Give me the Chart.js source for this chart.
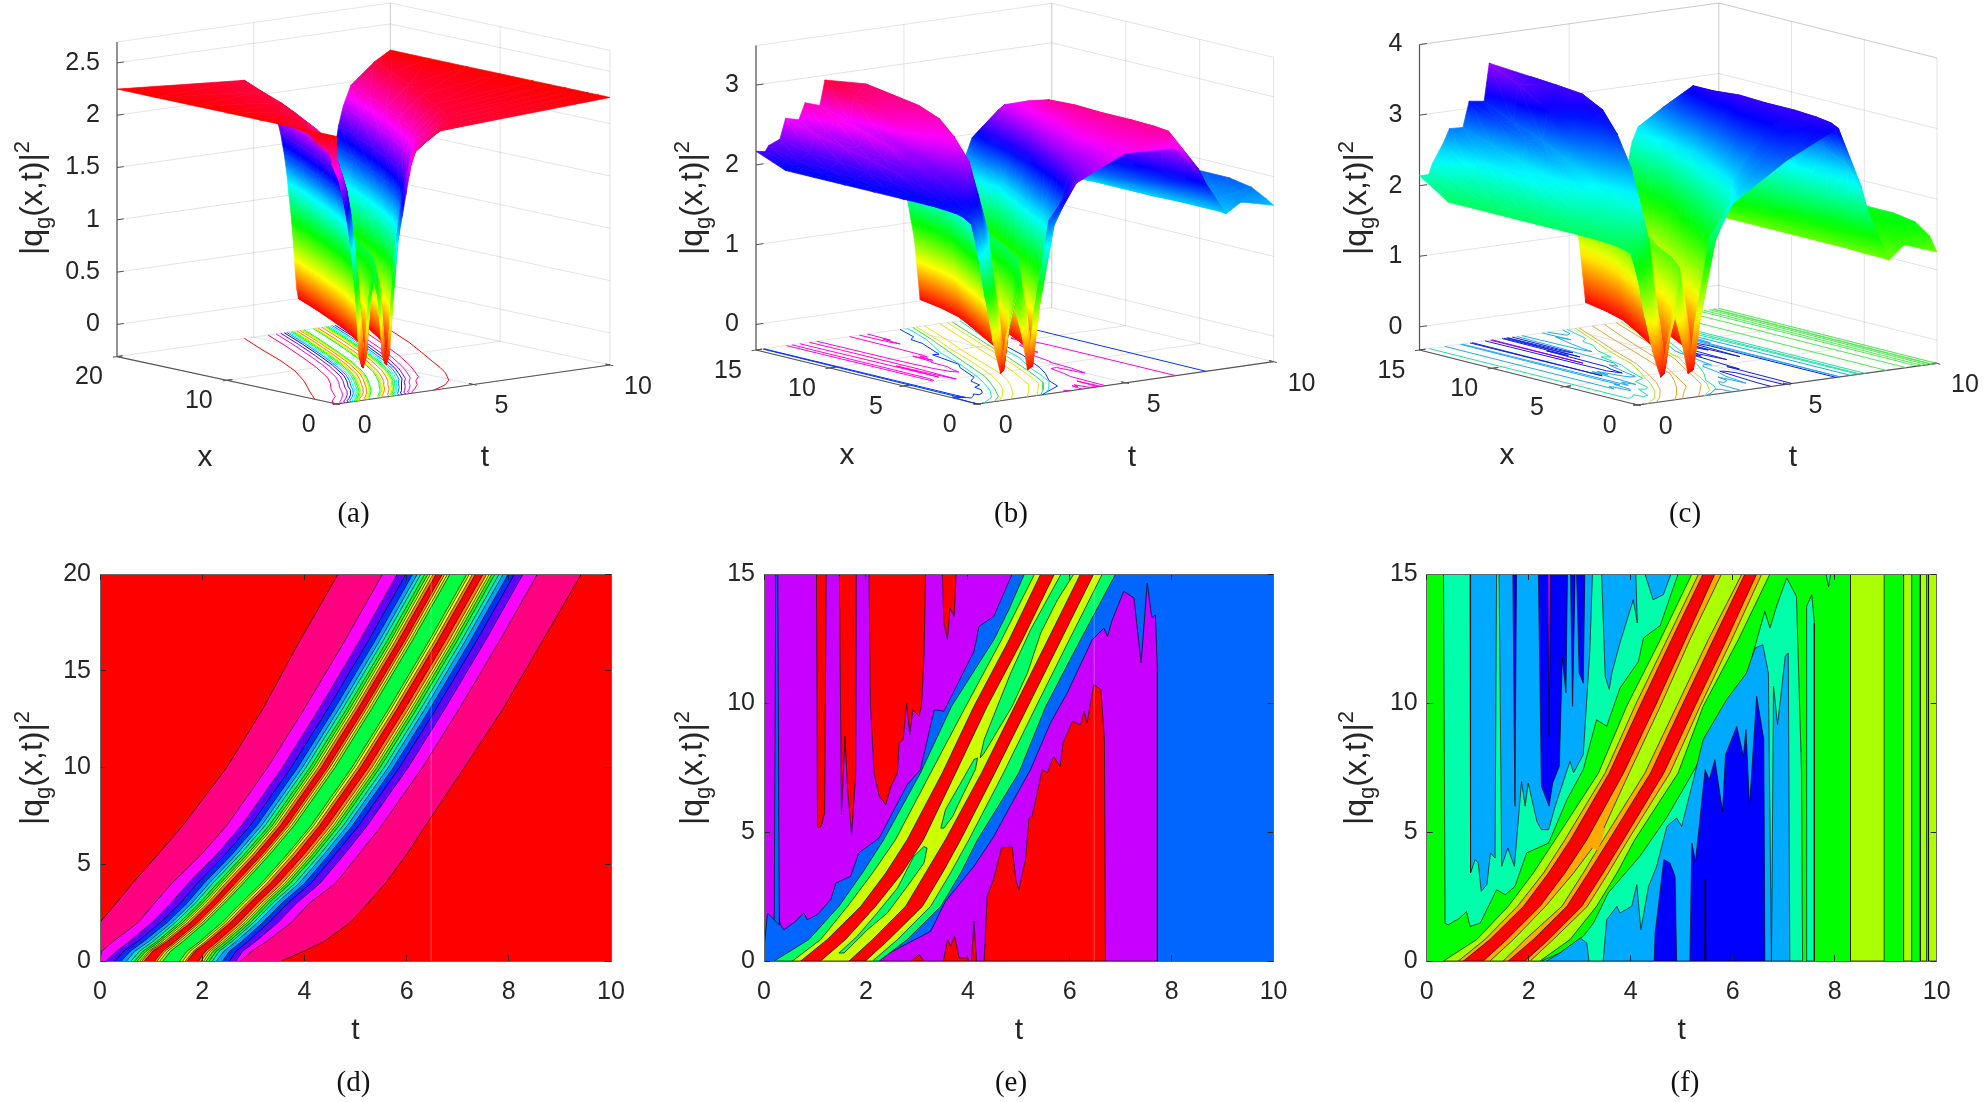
<!DOCTYPE html>
<html>
<head>
<meta charset="utf-8">
<title>q9 surfaces</title>
<script src="https://cdn.jsdelivr.net/npm/chart.js@4/dist/chart.umd.js"></script>
<style>
  html, body { margin: 0; background: #fff; }
  canvas { position: absolute; }
</style>
</head>
<body>
<script>
// ---- panel (d) : contour curves, t value of each curve at every x in dRows
const dRows = [0, 0.5, 1, 2, 3, 4, 5.5, 7, 10, 13, 16.5, 20];
const dCurves = [
  [0, 0, 0, 0, 0.32, 0.63, 1.13, 1.62, 2.48, 3.18, 3.9, 4.66],
  [0, 0.03, 0.25, 0.75, 1.07, 1.4, 1.98, 2.48, 3.28, 3.99, 4.78, 5.53],
  [0.12, 0.32, 0.57, 1.02, 1.39, 1.72, 2.28, 2.77, 3.57, 4.28, 5.07, 5.82],
  [0.29, 0.46, 0.73, 1.19, 1.58, 1.9, 2.45, 2.94, 3.74, 4.45, 5.24, 5.99],
  [0.42, 0.59, 0.85, 1.32, 1.71, 2.03, 2.58, 3.07, 3.87, 4.58, 5.37, 6.12],
  [0.52, 0.68, 0.95, 1.41, 1.8, 2.13, 2.67, 3.16, 3.96, 4.67, 5.46, 6.21],
  [0.61, 0.77, 1.03, 1.48, 1.87, 2.2, 2.74, 3.23, 4.03, 4.74, 5.53, 6.28],
  [0.68, 0.84, 1.11, 1.56, 1.95, 2.29, 2.82, 3.31, 4.11, 4.82, 5.61, 6.36],
  [0.73, 0.9, 1.16, 1.62, 2.01, 2.35, 2.88, 3.37, 4.17, 4.88, 5.67, 6.42],
  [0.78, 0.95, 1.21, 1.67, 2.06, 2.4, 2.93, 3.42, 4.22, 4.93, 5.72, 6.47],
  [0.82, 0.98, 1.26, 1.72, 2.11, 2.45, 2.99, 3.47, 4.27, 4.98, 5.77, 6.52],
  [0.87, 1.03, 1.31, 1.78, 2.17, 2.52, 3.05, 3.53, 4.33, 5.04, 5.83, 6.58],
  [1.07, 1.22, 1.46, 1.91, 2.29, 2.64, 3.17, 3.65, 4.45, 5.16, 5.95, 6.7],
  [1.12, 1.27, 1.51, 1.96, 2.34, 2.7, 3.22, 3.7, 4.5, 5.21, 6, 6.75],
  [1.17, 1.32, 1.56, 2.01, 2.39, 2.75, 3.27, 3.75, 4.55, 5.26, 6.05, 6.8],
  [1.23, 1.38, 1.62, 2.06, 2.44, 2.8, 3.32, 3.8, 4.6, 5.31, 6.1, 6.85],
  [1.56, 1.7, 1.95, 2.39, 2.76, 3.15, 3.66, 4.13, 4.93, 5.64, 6.43, 7.18],
  [1.62, 1.76, 2, 2.45, 2.81, 3.2, 3.71, 4.18, 4.98, 5.69, 6.48, 7.23],
  [1.67, 1.82, 2.06, 2.5, 2.87, 3.26, 3.77, 4.24, 5.04, 5.75, 6.54, 7.29],
  [1.71, 1.86, 2.11, 2.56, 2.93, 3.33, 3.84, 4.3, 5.1, 5.81, 6.6, 7.35],
  [1.93, 2.06, 2.29, 2.72, 3.08, 3.48, 3.99, 4.45, 5.25, 5.96, 6.75, 7.5],
  [1.98, 2.12, 2.35, 2.79, 3.15, 3.56, 4.06, 4.52, 5.32, 6.03, 6.82, 7.57],
  [2.03, 2.16, 2.4, 2.84, 3.2, 3.61, 4.11, 4.57, 5.37, 6.08, 6.87, 7.62],
  [2.08, 2.21, 2.45, 2.89, 3.25, 3.66, 4.16, 4.62, 5.42, 6.13, 6.92, 7.67],
  [2.14, 2.27, 2.52, 2.95, 3.31, 3.72, 4.22, 4.68, 5.48, 6.19, 6.98, 7.73],
  [2.2, 2.33, 2.58, 3.01, 3.38, 3.81, 4.3, 4.76, 5.56, 6.27, 7.06, 7.81],
  [2.28, 2.42, 2.66, 3.09, 3.46, 3.89, 4.38, 4.84, 5.64, 6.35, 7.14, 7.89],
  [2.4, 2.53, 2.77, 3.19, 3.56, 4, 4.48, 4.94, 5.74, 6.45, 7.24, 7.99],
  [2.53, 2.66, 2.89, 3.31, 3.68, 4.12, 4.6, 5.06, 5.86, 6.57, 7.36, 8.11],
  [2.66, 2.79, 3.04, 3.49, 3.85, 4.3, 4.78, 5.23, 6.03, 6.74, 7.53, 8.28],
  [2.75, 2.97, 3.25, 3.75, 4.1, 4.6, 5.06, 5.51, 6.31, 7.02, 7.81, 8.56],
  [3.55, 3.98, 4.38, 4.9, 5.25, 5.58, 6, 6.37, 7.13, 7.88, 8.65, 9.42]
];
const dColors = ['#ff0080', '#ff00ff', '#6000ff', '#0030ff', '#00a0ff', '#00e0e0', '#00ff80', '#20ff00',
  '#a0ff00', '#ffff00', '#ff8000', '#ff0000', '#ff8000', '#ffff00', '#a0ff00', '#00ff40',
  '#a0ff00', '#ffff00', '#ff8000', '#ff0000', '#ff8000', '#ffff00', '#a0ff00', '#20ff00',
  '#00ff80', '#00e0e0', '#00a0ff', '#0030ff', '#6000ff', '#ff00ff', '#ff0080', '#ff0000'];
// faint seam of the picture in (d) and (e)
const seamT = 6.48;

// ---- panel (a) : height of each curve of (d), plus the two troughs and the middle bump
const aLevels = [2.16, 1.97, 1.78, 1.6, 1.4, 1.22, 1.03, 0.84, 0.65, 0.47, 0.28, 0.09,
  0.09, 0.28, 0.47, 0.65, 0.65, 0.47, 0.28, 0.09, 0.09, 0.28, 0.47, 0.65,
  0.84, 1.03, 1.22, 1.4, 1.6, 1.78, 1.97, 2.16];
const aPlateau = 2.25;
const aBumpHeight = 0.85;
const aTrough1 = [0.97, 1.12, 1.38, 1.84, 2.23, 2.58, 3.11, 3.59, 4.39, 5.1, 5.89, 6.64];
const aBump = [1.4, 1.54, 1.78, 2.22, 2.6, 2.98, 3.49, 3.96, 4.76, 5.48, 6.26, 7.02];
const aTrough2 = [1.82, 1.96, 2.2, 2.64, 3, 3.4, 3.91, 4.37, 5.17, 5.89, 6.67, 7.43];

// ---- panel (e) : filled regions, [t, x] pairs
const eBase = [[0, 0], [10, 0], [10, 15], [0, 15]];
const eRed1 = [[1.03, 15], [1.05, 5.16], [1.12, 5.22], [1.19, 5.74], [1.22, 15]];
const eRed2 = [[1.48, 15], [1.52, 5.67], [1.59, 8.71], [1.64, 6.65], [1.72, 4.9], [1.8, 7.29], [1.81, 15]];
const eRed3 = [[2.06, 15], [2.09, 9.87], [2.16, 7.29], [2.26, 6.4], [2.39, 6.06], [2.49, 6.76], [2.62, 7.29], [2.65, 8.45], [2.73, 8.58], [2.8, 10], [2.86, 8.77], [2.92, 9.74], [3.04, 9.49], [3.09, 9.87], [3.14, 11.8], [3.17, 15]];
const eRed4 = [[3.5, 15], [3.53, 13.1], [3.6, 12.45], [3.65, 13.68], [3.73, 13.36], [3.77, 15]];
const eBlueEdge = [[0, 0], [0, 0.5], [0.07, 1.86], [0.2, 1.6], [0.26, 1.9], [0.32, 1.4], [0.39, 1.21], [0.62, 1.54], [0.78, 1.86], [0.85, 1.6], [1.05, 1.8], [1.31, 2.38], [1.41, 3.02], [1.7, 3.28], [1.86, 4.19], [2.26, 4.77], [2.62, 6.12], [2.81, 6.83], [3.07, 7.42], [3.34, 9.74], [3.53, 9.68], [4.12, 12], [4.22, 12.97], [4.51, 13.36], [4.87, 15]];
const eSliver = [[0.23, 15], [0.27, 15], [0.3, 1.4], [0.2, 1.6]];
const eIsland = [[2.16, 0], [3.27, 1.15], [3.56, 2.31], [4.12, 3.67], [4.51, 4.83], [4.9, 6.25], [5.23, 7.42], [5.62, 9.22], [5.95, 10.39], [6.44, 12.45], [6.67, 12.9], [6.74, 12.58], [6.83, 13.2], [7.06, 14.33], [7.26, 14.07], [7.4, 11.55], [7.52, 14.65], [7.61, 13.3], [7.68, 13.42], [7.72, 11.2], [7.72, 0]];
const eRedLow = [[4.32, 0], [4.38, 2.5], [4.51, 3.2], [4.66, 4.38], [4.87, 4.42], [4.94, 3.15], [5, 2.76], [5.13, 3.93], [5.2, 5.54], [5.26, 5.6], [5.46, 7.42], [5.56, 7.29], [5.68, 7.93], [5.81, 7.55], [5.87, 8.45], [6.05, 9.29], [6.21, 9.16], [6.28, 9.68], [6.34, 9.22], [6.47, 10.71], [6.61, 10.52], [6.68, 8.58], [6.7, 0]];
const eRedSpot1 = [[3.52, 0], [3.6, 0.83], [3.66, 0.57], [3.74, 0.96], [3.83, 0.12], [3.99, 0.12], [4, 0]];
const eRedSpot2 = [[4.07, 0], [4.12, 1.54], [4.17, 0]];
const eRedSpot3 = [[2.88, 0], [3.04, 0.25], [3.14, 0]];
const eGreen = [[0.2, 0], [0.88, 0.83], [1.47, 2.12], [1.93, 3.41], [2.35, 4.7], [3.07, 7.29], [3.68, 9.87], [4.51, 12.45], [4.8, 13.6], [5.11, 15], [6.9, 15], [6.21, 12.45], [5.53, 9.87], [5, 7.29], [4.19, 4.7], [3.86, 3.41], [3.47, 2.12], [2.81, 0.83], [2.26, 0]];
const eYellow = [[0.56, 0], [1.11, 0.83], [1.64, 2.12], [2.13, 3.41], [2.58, 4.7], [3.27, 7.29], [3.96, 9.87], [4.66, 12.45], [5.31, 15], [6.64, 15], [5.99, 12.45], [5.34, 9.87], [4.7, 7.29], [4.02, 4.7], [3.66, 3.41], [3.27, 2.12], [2.62, 0.83], [2.13, 0]];
const eGreenIn1 = [[5.83, 15], [5.23, 12.84], [4.84, 11.16], [4.58, 9.87], [4.32, 8.58], [4.24, 7.87], [4.32, 8.06], [4.87, 9.87], [5.17, 11.16], [5.43, 12.71], [5.76, 14], [6.08, 15]];
const eGreenIn2 = [[3.47, 5.15], [3.56, 5.86], [3.86, 6.9], [4.12, 7.81], [4.19, 7.87], [4.15, 7.43], [3.92, 6.51], [3.7, 5.6], [3.53, 5.15]];
const eGreenIn3 = [[1.47, 0.31], [1.83, 0.96], [2.22, 1.86], [2.62, 2.83], [2.94, 4.06], [3.14, 4.44], [3.2, 4.38], [3.14, 3.8], [2.81, 2.89], [2.42, 1.86], [2.03, 1.21], [1.57, 0.31]];
const eStripe1 = [[0.72, 0], [1.24, 0.83], [1.9, 2.12], [2.39, 3.41], [2.81, 4.7], [3.5, 7.29], [4.12, 9.87], [4.81, 12.45], [5.43, 15], [5.7, 15], [5.07, 12.45], [4.38, 9.87], [3.76, 7.29], [3.13, 4.7], [2.71, 3.41], [2.19, 2.12], [1.6, 0.83], [1.11, 0]];
const eStripe2 = [[1.67, 0], [2.13, 0.83], [2.78, 2.12], [3.17, 3.41], [3.56, 4.7], [4.27, 7.29], [4.92, 9.87], [5.57, 12.45], [6.21, 15], [6.47, 15], [5.83, 12.45], [5.18, 9.87], [4.53, 7.29], [3.86, 4.7], [3.5, 3.41], [3.11, 2.12], [2.45, 0.83], [1.99, 0]];

// ---- panel (f) : filled regions, [t, x] pairs
const fBase = [[0, 0], [10, 0], [10, 15], [0, 15]];
const fBar1 = [[8.31, 0], [8.97, 0], [8.97, 15], [8.31, 15]];
const fBar2 = [[9.35, 0], [9.51, 0], [9.51, 15], [9.35, 15]];
const fBar3 = [[9.68, 0], [9.8, 0], [9.8, 15], [9.68, 15]];
const fBar4 = [[9.84, 0], [10, 0], [10, 15], [9.84, 15]];
const fMintUp = [[0.33, 15], [0.36, 1.47], [0.42, 1.4], [0.65, 1.67], [0.78, 1.92], [0.85, 1.34], [1.05, 1.47], [1.37, 2.76], [1.54, 2.57], [1.73, 2.89], [1.96, 4.19], [2.39, 4.57], [2.75, 6.25], [3.07, 7.42], [3.33, 9.35], [3.53, 9.1], [3.79, 10.58], [4.15, 11.6], [4.25, 12.52], [4.58, 13], [4.77, 14.1], [4.93, 15]];
const fSkyUp1 = [[0.85, 15], [0.86, 3.41], [0.95, 3.93], [1.01, 3.8], [1.07, 2.7], [1.18, 2.96], [1.25, 4.19], [1.34, 3.99], [1.37, 15]];
const fSkyUp2 = [[1.42, 15], [1.47, 3.67], [1.59, 4.38], [1.72, 3.67], [1.86, 6.96], [1.93, 6], [1.99, 6.9], [2.16, 5.41], [2.25, 5.09], [2.39, 5.09], [2.52, 6], [2.81, 7.74], [2.88, 7.29], [3.07, 8], [3.2, 12.07], [3.25, 15]];
const fSkyUp3 = [[3.43, 15], [3.5, 11.03], [3.58, 10.52], [3.63, 11.16], [3.79, 12.33], [4.05, 14], [4.13, 13.1], [4.1, 15]];
const fSkyUp4 = [[4.28, 15], [4.44, 14], [4.64, 14.2], [4.79, 15]];
const fDarkUp1 = [[1.69, 15], [1.73, 6], [1.76, 15]];
const fDarkUp2 = [[2.19, 15], [2.25, 6.77], [2.4, 6], [2.47, 6.9], [2.6, 7.55], [2.66, 11.74], [2.73, 10.39], [2.76, 15]];
const fDarkUp3 = [[2.82, 15], [2.86, 9.87], [2.91, 15]];
const fDarkUp4 = [[2.94, 15], [2.99, 11.16], [3.07, 10.77], [3.1, 15]];
const fPurple = [[2.37, 15], [2.4, 8.7], [2.43, 15]];
const fMintLow = [[2.25, 0], [2.61, 0.31], [3.07, 0.96], [3.27, 1.47], [3.56, 2.64], [4.18, 4.06], [4.7, 5.54], [5.1, 6.9], [5.62, 8.71], [6.27, 11.03], [6.63, 13.55], [6.73, 12.9], [6.86, 13.75], [7.06, 14.85], [7.25, 14.13], [7.35, 7.29], [7.37, 0]];
const fMintBar = [[7.44, 0], [7.45, 13.75], [7.55, 14.2], [7.6, 13.1], [7.6, 0]];
const fMintNotch = [[7.83, 15], [7.88, 14.5], [7.92, 15]];
const fSkyLow1 = [[2.35, 0], [2.61, 0.31], [3.01, 0.89], [3.14, 0.7], [3.18, 0]];
const fSkyLow2 = [[3.46, 0], [3.53, 1.6], [3.73, 2.12], [3.79, 1.86], [4.02, 2.12], [4.12, 2.96], [4.2, 1.21], [4.35, 2.89], [4.51, 3.67], [4.71, 5.22], [4.9, 5.54], [5, 5.22], [5.23, 7.03], [5.42, 8.58], [5.88, 10.13], [6.27, 11.16], [6.44, 12.13], [6.59, 12.26], [6.7, 11.16], [6.76, 0]];
const fSkyLow3 = [[6.76, 0], [6.8, 10.65], [6.88, 9.16], [7.03, 11.81], [7.09, 11.94], [7.12, 0]];
const fDarkLow1 = [[4.46, 0], [4.48, 1.09], [4.65, 3.93], [4.77, 3.8], [4.87, 3.28], [4.9, 0]];
const fDarkLow2 = [[5.16, 0], [5.2, 4.57], [5.27, 3.86], [5.46, 7.42], [5.54, 7.03], [5.65, 7.8], [5.8, 5.8], [5.86, 8], [6.08, 9.1], [6.21, 7.93], [6.26, 8.97], [6.33, 6], [6.47, 10.26], [6.61, 8.58], [6.63, 0]];
const fDarkLine = [[5.45, 0], [5.46, 3.15], [5.47, 0]];
const fLime = [[0.33, 0], [0.98, 0.83], [1.6, 2.12], [2.09, 3.41], [2.52, 4.7], [3.37, 7.29], [3.92, 9.87], [4.58, 12.45], [5.2, 15], [6.73, 15], [6.11, 12.45], [5.42, 9.87], [4.93, 7.29], [4.08, 4.7], [3.73, 3.41], [3.33, 2.12], [2.81, 0.83], [2.22, 0]];
const fOrange1 = [[0.62, 0], [1.14, 0.83], [1.78, 2.12], [2.29, 3.41], [2.71, 4.7], [3.5, 7.29], [4.08, 9.87], [4.71, 12.45], [5.33, 15], [5.78, 15], [5.16, 12.45], [4.58, 9.87], [3.97, 7.29], [3.37, 4.7], [2.88, 3.41], [2.33, 2.12], [1.7, 0.83], [1.24, 0]];
const fOrange2 = [[1.5, 0], [1.93, 0.83], [2.65, 2.12], [3.07, 3.41], [3.46, 4.7], [4.28, 7.29], [4.9, 9.87], [5.52, 12.45], [6.18, 15], [6.57, 15], [5.98, 12.45], [5.36, 9.87], [4.77, 7.29], [3.95, 4.7], [3.56, 3.41], [3.15, 2.12], [2.48, 0.83], [2.03, 0]];
const fOrangeBridge = [[3.2, 4.4], [3.4, 5.3], [3.5, 5.1], [3.36, 4.3]];
const fStripe1 = [[0.72, 0], [1.24, 0.83], [1.9, 2.12], [2.39, 3.41], [2.82, 4.7], [3.58, 7.29], [4.18, 9.87], [4.8, 12.45], [5.42, 15], [5.65, 15], [5.07, 12.45], [4.48, 9.87], [3.86, 7.29], [3.14, 4.7], [2.71, 3.41], [2.22, 2.12], [1.57, 0.83], [1.11, 0]];
const fStripe2 = [[1.6, 0], [2.09, 0.83], [2.75, 2.12], [3.17, 3.41], [3.58, 4.7], [4.39, 7.29], [5, 9.87], [5.62, 12.45], [6.24, 15], [6.47, 15], [5.88, 12.45], [5.26, 9.87], [4.65, 7.29], [3.86, 4.7], [3.46, 3.41], [3.04, 2.12], [2.39, 0.83], [1.93, 0]];

// ---- panels (b) and (c) : surface samples, same t table, one row per x
const bcRows = [0, 0.5, 1.5, 3, 5, 7, 9, 11, 13, 15];
const bcT = [
  [0, 0.04, 0.08, 0.12, 0.16, 0.2, 0.25, 0.3, 0.35, 0.42, 0.5, 0.62, 0.77, 0.95, 1.22, 1.5, 1.68, 1.9, 2.4, 3.2, 5, 6.7, 7.7, 7.8, 8.4, 8.9, 10],
  [0, 0.05, 0.1, 0.15, 0.2, 0.25, 0.3, 0.38, 0.45, 0.55, 0.75, 0.95, 1.12, 1.3, 1.6, 1.9, 2.1, 2.35, 2.85, 3.6, 5.2, 6.7, 7.7, 7.8, 8.4, 8.9, 10],
  [0, 0.1, 0.15, 0.25, 0.3, 0.4, 0.5, 0.6, 0.7, 0.9, 1.2, 1.45, 1.65, 1.85, 2.15, 2.4, 2.6, 2.85, 3.3, 4.1, 5.4, 6.7, 7.7, 7.8, 8.4, 8.9, 10],
  [0, 0.15, 0.25, 0.4, 0.5, 0.7, 0.85, 1, 1.15, 1.5, 1.85, 2.1, 2.33, 2.55, 2.85, 3.1, 3.3, 3.55, 4, 4.7, 5.7, 6.7, 7.7, 7.8, 8.4, 8.9, 10],
  [0, 0.2, 0.3, 0.55, 0.7, 1, 1.2, 1.5, 1.7, 2.2, 2.6, 2.85, 3.05, 3.25, 3.55, 3.75, 3.95, 4.2, 4.65, 5.3, 5.9, 6.7, 7.7, 7.8, 8.4, 8.9, 10],
  [0, 0.25, 0.35, 0.65, 0.8, 1.2, 1.4, 1.8, 2, 2.7, 3.2, 3.45, 3.66, 3.85, 4.1, 4.3, 4.5, 4.75, 5.2, 5.8, 6.3, 6.8, 7.7, 7.8, 8.4, 8.9, 10],
  [0, 0.3, 0.4, 0.75, 0.9, 1.3, 1.5, 2, 2.2, 3.2, 3.8, 4.05, 4.27, 4.45, 4.75, 4.95, 5.1, 5.35, 5.8, 6.3, 6.6, 6.9, 7.7, 7.8, 8.4, 8.9, 10],
  [0, 0.31, 0.43, 0.81, 1, 1.45, 1.66, 2.16, 2.33, 3.5, 4.35, 4.65, 4.85, 5.05, 5.35, 5.55, 5.7, 5.95, 6.35, 6.7, 6.9, 7.2, 7.7, 7.8, 8.4, 8.9, 10],
  [0, 0.31, 0.43, 0.81, 1, 1.45, 1.66, 2.16, 2.33, 3.6, 4.6, 5.05, 5.25, 5.4, 5.7, 5.95, 6.1, 6.3, 6.7, 7, 7.2, 7.4, 7.7, 7.8, 8.4, 8.9, 10],
  [0, 0.31, 0.43, 0.81, 1, 1.45, 1.66, 2.16, 2.33, 3.7, 4.86, 5.35, 5.55, 5.68, 5.9, 6.2, 6.35, 6.5, 6.9, 7.1, 7.3, 7.5, 7.7, 7.8, 8.4, 8.9, 10]
];
const bZ = [
  [1.6, 1.5, 1.4, 1.3, 1.2, 1.1, 1, 0.9, 0.8, 0.65, 0.45, 0.25, 0.02, 0.45, 0.85, 0.45, 0.02, 0.75, 1.85, 2.25, 2.56, 2.53, 2.04, 1.98, 1.62, 1.74, 1.64],
  [1.95, 1.9, 1.9, 1.85, 1.8, 1.75, 1.7, 1.6, 1.5, 1.35, 0.95, 0.5, 0.02, 0.55, 0.95, 0.55, 0.02, 0.8, 1.8, 2.25, 2.55, 2.72, 2.2, 2, 1.63, 1.72, 1.7],
  [2, 2, 2, 2, 2, 2, 2, 1.98, 1.96, 1.9, 1.35, 0.7, 0.02, 0.62, 1.15, 0.62, 0.02, 0.8, 1.65, 2.25, 2.58, 2.74, 2.35, 1.95, 1.63, 1.72, 1.8],
  [2.02, 2.02, 2.03, 2.05, 2.06, 2.08, 2.1, 2.12, 2.14, 2.1, 1.6, 0.75, 0.02, 0.65, 1.2, 0.65, 0.02, 0.8, 1.6, 2.3, 2.6, 2.75, 2.45, 1.9, 1.63, 1.7, 1.85],
  [2.02, 2.03, 2.04, 2.08, 2.12, 2.15, 2.2, 2.22, 2.28, 2.38, 1.7, 0.8, 0.02, 0.65, 1.2, 0.65, 0.02, 0.8, 1.6, 2.35, 2.6, 2.75, 2.5, 1.85, 1.62, 1.7, 1.85],
  [2.02, 2.03, 2.06, 2.1, 2.2, 2.22, 2.3, 2.3, 2.42, 2.57, 1.75, 0.8, 0.02, 0.65, 1.2, 0.65, 0.02, 0.8, 1.6, 2.35, 2.58, 2.75, 2.5, 1.8, 1.62, 1.7, 1.85],
  [2.02, 2.04, 2.08, 2.14, 2.28, 2.28, 2.42, 2.38, 2.55, 2.68, 1.75, 0.8, 0.02, 0.65, 1.2, 0.65, 0.02, 0.8, 1.6, 2.3, 2.55, 2.72, 2.5, 1.8, 1.62, 1.7, 1.85],
  [2.02, 2.05, 2.1, 2.18, 2.34, 2.32, 2.5, 2.44, 2.7, 2.74, 1.8, 0.8, 0.02, 0.65, 1.2, 0.65, 0.02, 0.8, 1.6, 2.3, 2.5, 2.6, 2.45, 1.65, 1.6, 1.7, 1.85],
  [2.02, 2.05, 2.12, 2.2, 2.42, 2.4, 2.58, 2.52, 2.82, 2.78, 1.8, 0.8, 0.02, 0.65, 1.2, 0.65, 0.02, 0.8, 1.75, 2.2, 2.4, 2.45, 2.35, 1.65, 1.6, 1.7, 1.85],
  [2.17, 2.15, 2.22, 2.28, 2.53, 2.49, 2.69, 2.63, 2.94, 2.82, 1.85, 0.8, 0.02, 0.65, 1.2, 0.65, 0.02, 0.8, 1.55, 1.75, 1.95, 1.95, 1.72, 1.65, 1.6, 1.7, 1.85]
];
const cZ = [
  [1.5, 1.4, 1.3, 1.2, 1.1, 1, 0.9, 0.8, 0.7, 0.55, 0.4, 0.22, 0.02, 0.42, 0.9, 0.42, 0.02, 0.7, 1.9, 2.35, 2.85, 3.2, 1.95, 1.85, 1.23, 1.42, 1.25],
  [1.8, 1.78, 1.78, 1.75, 1.7, 1.65, 1.6, 1.5, 1.4, 1.25, 1, 0.5, 0.02, 0.5, 1, 0.5, 0.02, 0.78, 1.85, 2.45, 2.9, 3.25, 2.3, 2, 1.24, 1.42, 1.45],
  [1.85, 1.85, 1.85, 1.85, 1.85, 1.85, 1.85, 1.82, 1.8, 1.75, 1.4, 0.7, 0.02, 0.6, 1.25, 0.6, 0.02, 0.8, 1.7, 2.5, 3, 3.28, 2.55, 1.95, 1.24, 1.45, 1.6],
  [1.87, 1.88, 1.9, 1.93, 1.96, 2, 2.04, 2.08, 2.12, 2.35, 1.7, 0.8, 0.02, 0.62, 1.3, 0.62, 0.02, 0.8, 1.65, 2.5, 3.05, 3.3, 2.7, 1.9, 1.25, 1.42, 1.65],
  [1.87, 1.88, 1.92, 1.98, 2.06, 2.12, 2.2, 2.25, 2.38, 2.65, 1.8, 0.85, 0.02, 0.65, 1.3, 0.65, 0.02, 0.85, 1.65, 2.55, 3.05, 3.3, 2.8, 1.85, 1.25, 1.42, 1.65],
  [1.87, 1.89, 1.95, 2.05, 2.2, 2.27, 2.4, 2.42, 2.62, 3, 1.85, 0.85, 0.02, 0.65, 1.3, 0.65, 0.02, 0.85, 1.65, 2.55, 3.05, 3.3, 2.85, 1.75, 1.25, 1.42, 1.65],
  [1.87, 1.9, 1.97, 2.1, 2.3, 2.38, 2.58, 2.55, 2.85, 3.2, 1.9, 0.85, 0.02, 0.65, 1.3, 0.65, 0.02, 0.85, 1.7, 2.6, 3.05, 3.25, 2.8, 1.65, 1.25, 1.42, 1.65],
  [1.87, 1.92, 2, 2.15, 2.4, 2.45, 2.75, 2.72, 3.15, 3.3, 1.95, 0.85, 0.02, 0.65, 1.3, 0.65, 0.02, 0.85, 1.75, 2.7, 3, 3.2, 2.7, 1.55, 1.25, 1.42, 1.65],
  [1.87, 1.95, 2.05, 2.2, 2.5, 2.6, 2.92, 2.88, 3.4, 3.32, 2, 0.85, 0.02, 0.65, 1.3, 0.65, 0.02, 0.85, 1.95, 2.5, 2.8, 2.85, 2.45, 1.5, 1.25, 1.42, 1.65],
  [2.14, 2.14, 2.29, 2.57, 2.75, 2.74, 3.1, 3.07, 3.6, 3.33, 2.1, 0.85, 0.02, 0.65, 1.3, 0.65, 0.02, 0.85, 1.75, 2.2, 2.4, 2.4, 2.15, 1.45, 1.25, 1.42, 1.65]
];

// ---- axis tick labels
const tTicks3d = [0, 5, 10];
const xTicksA = [0, 10, 20];
const xTicksBC = [0, 5, 10, 15];
const zTicksA = [0, 0.5, 1, 1.5, 2, 2.5];
const zTicksB = [0, 1, 2, 3];
const zTicksC = [0, 1, 2, 3, 4];

const INK = '#262626';
const SANS = '"Liberation Sans", Arial, sans-serif';
const SERIF = '"Liberation Serif", serif';
const CONTOUR = 'rgba(0,0,0,0.75)';
const GRID3D = 'rgba(38,38,38,0.13)';

const purple = '#c800ff', red = '#ff0000', blue = '#0066ff', green = '#00ff66', yellow = '#ccff00';
const eLayers = [
  { pts: eBase, color: purple, line: false },
  { pts: eRed1, color: red, floor: '#ff00e0' }, { pts: eRed2, color: red, floor: '#ff00e0' },
  { pts: eRed3, color: red, floor: '#ff00e0' }, { pts: eRed4, color: red, floor: '#ff00e0' },
  { pts: eBlueEdge, color: blue, closure: [[10, 15], [10, 0]], floor: '#0033ff' },
  { pts: eSliver, color: blue, floor: '#0033ff' },
  { pts: eIsland, color: purple, floor: '#0033ff' },
  { pts: eRedLow, color: red, floor: '#ff00e0' }, { pts: eRedSpot1, color: red, floor: '#ff00e0' },
  { pts: eRedSpot2, color: red, floor: '#ff00e0' }, { pts: eRedSpot3, color: red, floor: '#ff00e0' },
  { pts: eGreen, color: green, floor: '#00e8e0' },
  { pts: eYellow, color: yellow, floor: '#30e040' },
  { pts: eGreenIn1, color: green }, { pts: eGreenIn2, color: green }, { pts: eGreenIn3, color: green },
  { pts: eStripe1, color: red, floor: '#f0e000' }, { pts: eStripe2, color: red, floor: '#f0e000' }
];
const fDark = '#0000ff', fSky = '#00aaff', fMint = '#00ffaa', fGreen = '#00ff00', fLimeC = '#aaff00', fOrangeC = '#ffaa00';
const fLayers = [
  { pts: fBase, color: fGreen, line: false },
  { pts: fBar1, color: fLimeC, floor: '#50e850' }, { pts: fBar2, color: fLimeC, floor: '#50e850' },
  { pts: fBar3, color: fLimeC, floor: '#50e850' }, { pts: fBar4, color: fLimeC, floor: '#50e850' },
  { pts: fMintUp, color: fMint, floor: '#20e0a0' },
  { pts: fSkyUp1, color: fSky, floor: '#20a8f0' }, { pts: fSkyUp2, color: fSky, floor: '#20a8f0' },
  { pts: fSkyUp3, color: fSky, floor: '#20a8f0' }, { pts: fSkyUp4, color: fSky, floor: '#20a8f0' },
  { pts: fDarkUp1, color: fDark, floor: '#1020e0' }, { pts: fDarkUp2, color: fDark, floor: '#1020e0' },
  { pts: fDarkUp3, color: fDark, floor: '#1020e0' }, { pts: fDarkUp4, color: fDark, floor: '#1020e0' },
  { pts: fPurple, color: '#aa00ff', floor: '#9000e8' },
  { pts: fMintLow, color: fMint, floor: '#20e0a0' }, { pts: fMintBar, color: fMint, floor: '#20e0a0' },
  { pts: fMintNotch, color: fMint },
  { pts: fSkyLow1, color: fSky, floor: '#20a8f0' }, { pts: fSkyLow2, color: fSky, floor: '#20a8f0' },
  { pts: fSkyLow3, color: fSky, floor: '#20a8f0' },
  { pts: fDarkLow1, color: fDark, floor: '#1020e0' }, { pts: fDarkLow2, color: fDark, floor: '#1020e0' },
  { pts: fDarkLine, color: fDark },
  { pts: fLime, color: fLimeC, floor: '#a0e820' },
  { pts: fOrange1, color: fOrangeC, floor: '#f0a030' }, { pts: fOrange2, color: fOrangeC, floor: '#f0a030' },
  { pts: fOrangeBridge, color: fOrangeC, line: false },
  { pts: fStripe1, color: red }, { pts: fStripe2, color: red }
];

// page position of every panel
const cells = {
  a: { left: 0, top: 0, width: 660, height: 550 },
  b: { left: 660, top: 0, width: 660, height: 550 },
  c: { left: 1320, top: 0, width: 664, height: 550 },
  d: { left: 0, top: 550, width: 660, height: 552 },
  e: { left: 660, top: 550, width: 660, height: 552 },
  f: { left: 1320, top: 550, width: 664, height: 552 }
};
// floor corners of the 3d boxes
const views = {
  a: { F: [336.7, 404], L: [117, 356.6], R: [610, 365], zMin: -0.307, zMax: 2.7, height: 314.6, xMax: 20, clim: 2.25 },
  b: { F: [977.8, 404], L: [756, 350], R: [1273.6, 361.7], zMin: -0.32, zMax: 3.495, height: 304.4, xMax: 15, clim: 3.05 },
  c: { F: [1637.7, 405], L: [1419.5, 350], R: [1937, 363.4], zMin: -0.328, zMax: 4, height: 305.4, xMax: 15, clim: 4.7 }
};
const texts = {
  a: { cap: '(a)', capX: 353.5, capY: 514, yX: 32, yY: 198, xLab: [205, 458], tLab: [485, 458] },
  b: { cap: '(b)', capX: 1011, capY: 514, yX: 692, yY: 198, xLab: [847, 456], tLab: [1132, 458] },
  c: { cap: '(c)', capX: 1685, capY: 514, yX: 1356, yY: 198, xLab: [1507, 456], tLab: [1793, 458] },
  d: { cap: '(d)', capX: 353.5, capY: 1083, yX: 32, yY: 768 },
  e: { cap: '(e)', capX: 1011, capY: 1083, yX: 692, yY: 768 },
  f: { cap: '(f)', capX: 1685, capY: 1083, yX: 1356, yY: 768 }
};

function hueColor(z, clim) {
  const h = Math.max(0, Math.min(z / clim, 1));
  return 'hsl(' + (h * 360).toFixed(1) + ',100%,50%)';
}

function project(v, x, t, z) {
  const a = x / v.xMax, b = t / 10, c = (z - v.zMin) / (v.zMax - v.zMin);
  return {
    x: v.F[0] + a * (v.L[0] - v.F[0]) + b * (v.R[0] - v.F[0]),
    y: v.F[1] + a * (v.L[1] - v.F[1]) + b * (v.R[1] - v.F[1]) - c * v.height
  };
}

// one triangle of the surface, coloured by height with a linear gradient
function fillTriangle(ctx, p, z, clim) {
  const [a, b, c] = p;
  const det = (b.x - a.x) * (c.y - a.y) - (c.x - a.x) * (b.y - a.y);
  if (Math.abs(det) < 0.01) return;
  const lo = Math.min(z[0], z[1], z[2]), hi = Math.max(z[0], z[1], z[2]);
  let paint;
  if (hi - lo < 0.001) {
    paint = hueColor(lo, clim);
  } else {
    const gx = ((z[1] - z[0]) * (c.y - a.y) - (z[2] - z[0]) * (b.y - a.y)) / det;
    const gy = ((z[2] - z[0]) * (b.x - a.x) - (z[1] - z[0]) * (c.x - a.x)) / det;
    const g2 = gx * gx + gy * gy;
    const start = p[z.indexOf(lo)];
    const k = (hi - lo) / g2;
    paint = ctx.createLinearGradient(start.x, start.y, start.x + gx * k, start.y + gy * k);
    const n = Math.ceil((hi - lo) / clim * 24) + 1;
    for (let i = 0; i <= n; i++) paint.addColorStop(i / n, hueColor(lo + (hi - lo) * i / n, clim));
  }
  ctx.fillStyle = paint;
  ctx.strokeStyle = paint;
  ctx.lineWidth = 0.7;
  ctx.beginPath();
  ctx.moveTo(a.x, a.y);
  ctx.lineTo(b.x, b.y);
  ctx.lineTo(c.x, c.y);
  ctx.closePath();
  ctx.fill();
  ctx.stroke();
}

// fills regions and surface quads under each dataset's own parsed points
const areaPlugin = {
  id: 'areaPlugin',
  beforeDatasetDraw(chart, args) {
    const ds = chart.data.datasets[args.index];
    const pts = args.meta.data;
    const ctx = chart.ctx;
    if (ds.quadZ) {
      fillTriangle(ctx, [pts[0], pts[1], pts[2]], [ds.quadZ[0], ds.quadZ[1], ds.quadZ[2]], ds.clim);
      fillTriangle(ctx, [pts[0], pts[2], pts[3]], [ds.quadZ[0], ds.quadZ[2], ds.quadZ[3]], ds.clim);
    } else if (ds.areaColor) {
      ctx.save();
      ctx.fillStyle = ds.areaColor;
      ctx.beginPath();
      pts.forEach((p, i) => i ? ctx.lineTo(p.x, p.y) : ctx.moveTo(p.x, p.y));
      (ds.closure || []).forEach(c => ctx.lineTo(chart.scales.x.getPixelForValue(c[0]), chart.scales.y.getPixelForValue(c[1])));
      ctx.closePath();
      ctx.fill();
      ctx.restore();
    }
  }
};

function drawYTitle(ctx, cx, cy) {
  const pieces = [['|q', 32, 0], ['g', 22, 8], ['(x,t)|', 32, 0], ['2', 22, -13]];
  ctx.save();
  ctx.translate(cx, cy);
  ctx.rotate(-Math.PI / 2);
  ctx.fillStyle = INK;
  ctx.textBaseline = 'alphabetic';
  ctx.textAlign = 'left';
  let total = 0;
  pieces.forEach(p => { ctx.font = p[1] + 'px ' + SANS; total += ctx.measureText(p[0]).width; });
  let pos = -total / 2;
  pieces.forEach(p => {
    ctx.font = p[1] + 'px ' + SANS;
    ctx.fillText(p[0], pos, 10 + p[2]);
    pos += ctx.measureText(p[0]).width;
  });
  ctx.restore();
}

function textPlugin(key) {
  const cell = cells[key], info = texts[key], v = views[key];
  return {
    id: 'textPlugin',
    afterDraw(chart) {
      const ctx = chart.ctx;
      ctx.save();
      ctx.translate(-cell.left, -cell.top);
      drawYTitle(ctx, info.yX, info.yY);
      ctx.fillStyle = '#111';
      ctx.textAlign = 'center';
      ctx.textBaseline = 'middle';
      ctx.font = '29px ' + SERIF;
      ctx.fillText(info.cap, info.capX, info.capY);
      if (v) {
        ctx.fillStyle = INK;
        ctx.font = '30px ' + SANS;
        ctx.fillText('x', info.xLab[0], info.xLab[1]);
        ctx.fillText('t', info.tLab[0], info.tLab[1]);
        ctx.font = '25px ' + SANS;
        v.xTicks.forEach(x => {
          const p = project(v, x, 0, v.zMin);
          ctx.fillText(String(x), p.x - 28, p.y + 21);
        });
        v.tTicks.forEach(t => {
          const p = project(v, 0, t, v.zMin);
          ctx.fillText(String(t), p.x + 28, p.y + 22);
        });
        ctx.textAlign = 'right';
        v.zTicks.forEach(z => {
          const p = project(v, v.xMax, 0, z);
          ctx.fillText(String(z), p.x - 17, p.y);
        });
      }
      ctx.restore();
    }
  };
}

function makeCanvas(key) {
  const cell = cells[key];
  const cv = document.createElement('canvas');
  cv.width = cell.width;
  cv.height = cell.height;
  cv.style.left = cell.left + 'px';
  cv.style.top = cell.top + 'px';
  cv.style.width = cell.width + 'px';
  cv.style.height = cell.height + 'px';
  document.body.appendChild(cv);
  return cv;
}

function polyline(points, color, width) {
  return { data: points, showLine: true, borderColor: color, borderWidth: width, pointRadius: 0, fill: false, tension: 0 };
}

// turns rows of t and z into painted quads, far rows first
function surfaceQuads(v, rows, tTable, zTable) {
  const out = [];
  for (let i = rows.length - 2; i >= 0; i--) {
    for (let j = tTable[i].length - 2; j >= 0; j--) {
      const corners = [[i, j], [i, j + 1], [i + 1, j + 1], [i + 1, j]];
      out.push({
        data: corners.map(c => project(v, rows[c[0]], tTable[c[0]][c[1]], zTable[c[0]][c[1]])),
        quadZ: corners.map(c => zTable[c[0]][c[1]]),
        clim: v.clim,
        showLine: false,
        pointRadius: 0
      });
    }
  }
  return out;
}

function boxLines(v) {
  const out = [];
  const line = (pts, color, w) => out.push(polyline(pts.map(p => project(v, p[0], p[1], p[2])), color, w));
  v.zTicks.forEach(z => line([[v.xMax, 0, z], [v.xMax, 10, z], [0, 10, z]], GRID3D, 1));
  v.xTicks.forEach(x => line([[x, 0, v.zMin], [x, 10, v.zMin], [x, 10, v.zMax]], GRID3D, 1));
  v.tTicks.forEach(t => line([[0, t, v.zMin], [v.xMax, t, v.zMin], [v.xMax, t, v.zMax]], GRID3D, 1));
  line([[v.xMax, 0, v.zMax], [v.xMax, 10, v.zMax], [0, 10, v.zMax]], GRID3D, 1);
  // dark axes and their ticks
  line([[v.xMax, 0, v.zMin], [v.xMax, 0, v.zMax]], '#555', 1.2);
  line([[v.xMax, 0, v.zMin], [0, 0, v.zMin], [0, 10, v.zMin]], '#555', 1.2);
  v.zTicks.forEach(z => line([[v.xMax, 0, z], [v.xMax, 0.25, z]], '#555', 1));
  v.xTicks.forEach(x => line([[x, 0, v.zMin], [x, 0.2, v.zMin], [x, -0.15, v.zMin]], '#555', 1));
  v.tTicks.forEach(t => line([[0, t, v.zMin], [v.xMax * 0.02, t, v.zMin], [-v.xMax * 0.015, t, v.zMin]], '#555', 1));
  return out;
}

// contour lines on the floor of a box, edge runs along the box ends are left out
function floorLines(v, layers) {
  const out = [];
  layers.forEach(l => {
    if (!l.floor) return;
    const closed = l.closure ? l.pts : l.pts.concat([l.pts[0]]);
    let run = [];
    const flush = () => {
      if (run.length > 1) out.push(polyline(run.map(p => project(v, p[1], p[0], v.zMin)), l.floor, 1));
      run = [];
    };
    closed.forEach((p, i) => {
      const prev = closed[i - 1];
      if (prev && ((prev[1] === p[1] && (p[1] === 0 || p[1] === v.xMax)))) flush();
      run.push(p);
    });
    flush();
  });
  return out;
}

function build3d(key, quads, floor) {
  const v = views[key], cell = cells[key];
  // painted in list order; chart.js draws the last dataset first
  const sets = boxLines(v).concat(floor, quads).reverse();
  new Chart(makeCanvas(key), {
    type: 'scatter',
    data: { datasets: sets },
    plugins: [areaPlugin, textPlugin(key)],
    options: {
      responsive: false,
      animation: false,
      devicePixelRatio: 1,
      events: [],
      layout: { padding: 0 },
      plugins: { legend: { display: false }, tooltip: { enabled: false } },
      scales: {
        x: { type: 'linear', display: false, min: cell.left, max: cell.left + cell.width },
        y: { type: 'linear', display: false, reverse: true, min: cell.top, max: cell.top + cell.height }
      }
    }
  });
}

function build2d(key, sets, yMax, plotLeft, plotRight) {
  const cell = cells[key];
  const plotTop = 574, plotBottom = 961, padBottom = 53;
  const tickFont = { size: 25, family: SANS };
  const frame = { display: true, color: '#666', width: 1, z: 3 };
  const grid = { drawOnChartArea: false, tickLength: -6, color: INK, lineWidth: 1, z: 3 };
  const fixed = (prop, value) => (s) => {
    s[prop] = value;
    s.paddingTop = 0; s.paddingBottom = 0; s.paddingLeft = 0; s.paddingRight = 0;
  };
  new Chart(makeCanvas(key), {
    type: 'scatter',
    data: { datasets: sets.slice().reverse() },
    plugins: [areaPlugin, textPlugin(key)],
    options: {
      responsive: false,
      animation: false,
      devicePixelRatio: 1,
      events: [],
      layout: { padding: { top: plotTop - cell.top, right: cell.left + cell.width - plotRight, bottom: padBottom, left: 0 } },
      plugins: { legend: { display: false }, tooltip: { enabled: false } },
      scales: {
        x: {
          type: 'linear', position: 'bottom', min: 0, max: 10, grid, border: frame,
          ticks: { stepSize: 2, color: INK, font: tickFont, padding: 22, maxRotation: 0, autoSkip: false },
          title: { display: true, text: 't', color: INK, font: { size: 30, family: SANS }, padding: 0 },
          afterFit: fixed('height', cell.top + cell.height - padBottom - plotBottom)
        },
        y: {
          type: 'linear', position: 'left', min: 0, max: yMax, grid, border: frame,
          ticks: { stepSize: 5, color: INK, font: tickFont, padding: 15, autoSkip: false },
          afterFit: fixed('width', plotLeft - cell.left)
        },
        xTop: {
          type: 'linear', position: 'top', axis: 'x', min: 0, max: 10, grid, border: frame,
          ticks: { stepSize: 2, display: false },
          afterFit: fixed('height', 0)
        },
        yRight: {
          type: 'linear', position: 'right', axis: 'y', min: 0, max: yMax, grid, border: frame,
          ticks: { stepSize: 5, display: false },
          afterFit: fixed('width', 0)
        }
      }
    }
  });
}

function regionSet(l) {
  const closed = l.closure ? l.pts : l.pts.concat([l.pts[0]]);
  return {
    data: closed.map(p => ({ x: p[0], y: p[1] })),
    areaColor: l.color,
    closure: l.closure,
    showLine: l.line !== false,
    borderColor: CONTOUR,
    borderWidth: 0.9,
    pointRadius: 0,
    tension: 0
  };
}

function seamLine(yMax) {
  return polyline([{ x: seamT, y: 0 }, { x: seamT, y: yMax }], 'rgba(255,255,255,0.3)', 1);
}

// panel (d)
const dLayers = [{ pts: [[0, 0], [10, 0], [10, 20], [0, 20]], color: red, line: false }];
dCurves.forEach((c, k) => {
  const pts = c.map((t, i) => [t, dRows[i]]).filter((p, i) => !(p[0] === 0 && c[i + 1] === 0));
  dLayers.push({ pts, color: dColors[k], closure: [[10, 20], [10, 0], [0, 0]] });
});
build2d('d', dLayers.map(regionSet).concat([seamLine(20)]), 20, 100, 611);
build2d('e', eLayers.map(regionSet).concat([seamLine(15)]), 15, 764, 1273.6);
build2d('f', fLayers.map(regionSet), 15, 1426.7, 1936.7);

// panel (a): mesh columns come from the curves of (d)
const aT = dRows.map((x, i) => {
  const row = [0];
  dCurves.forEach((c, k) => {
    row.push(c[i]);
    if (k === 11) row.push(aTrough1[i]);
    if (k === 15) row.push(aBump[i]);
    if (k === 19) row.push(aTrough2[i]);
  });
  row.push(10);
  return row;
});
const aZrow = [aPlateau];
aLevels.forEach((z, k) => {
  aZrow.push(z);
  if (k === 11) aZrow.push(0);
  if (k === 15) aZrow.push(aBumpHeight);
  if (k === 19) aZrow.push(0);
});
aZrow.push(aPlateau);
const aZ = dRows.map(() => aZrow);

views.a.xTicks = xTicksA; views.a.tTicks = tTicks3d; views.a.zTicks = zTicksA;
views.b.xTicks = xTicksBC; views.b.tTicks = tTicks3d; views.b.zTicks = zTicksB;
views.c.xTicks = xTicksBC; views.c.tTicks = tTicks3d; views.c.zTicks = zTicksC;

const aFloor = dCurves.map((c, k) => {
  const pts = c.map((t, i) => [t, dRows[i]]).filter((p, i) => !(p[0] === 0 && c[i + 1] === 0));
  return polyline(pts.map(p => project(views.a, p[1], p[0], views.a.zMin)), hueColor(aLevels[k] + 0.09, views.a.clim), 1);
});
build3d('a', surfaceQuads(views.a, dRows, aT, aZ), aFloor);
build3d('b', surfaceQuads(views.b, bcRows, bcT, bZ), floorLines(views.b, eLayers));
build3d('c', surfaceQuads(views.c, bcRows, bcT, cZ), floorLines(views.c, fLayers));
</script>
</body>
</html>
